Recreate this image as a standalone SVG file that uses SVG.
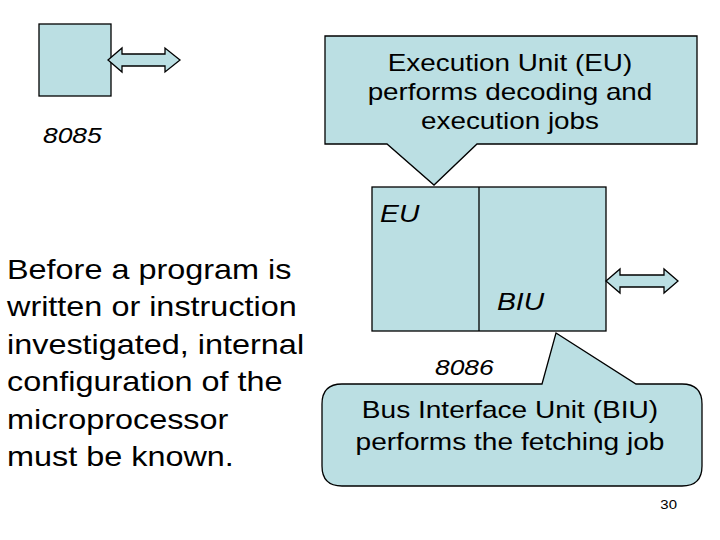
<svg xmlns="http://www.w3.org/2000/svg" width="720" height="540" viewBox="0 0 720 540">
<style>
.s{fill:#bbdfe3;stroke:#000;stroke-width:1.3}
.t{font-family:"Liberation Sans",Arial,sans-serif;fill:#000}
.i{font-style:italic}
</style>
<rect width="720" height="540" fill="#fff"/>
<g id="n8085"><rect class="s" x="39" y="24" width="72" height="72"/><text class="t i" x="43" y="143" font-size="22" transform="translate(43,0) scale(1.2,1) translate(-43,0)">8085</text></g>
<g id="n8086"><rect class="s" x="372" y="187" width="234" height="144"/><line x1="479" y1="187" x2="479" y2="331" stroke="#000" stroke-width="1.3"/>
<text class="t i" x="380" y="222" font-size="24" transform="translate(380,0) scale(1.18,1) translate(-380,0)">EU</text><text class="t i" x="497" y="310" font-size="24" transform="translate(497,0) scale(1.18,1) translate(-497,0)">BIU</text>
<text class="t i" x="435" y="375" font-size="22" transform="translate(435,0) scale(1.2,1) translate(-435,0)">8086</text></g>
<g id="connectors">
<path class="s" d="M108,60 L122,48 L122,54 L165,54 L165,48 L180,60 L165,72 L165,66 L122,66 L122,72 Z"/>
<path class="s" d="M606,281 L620,269 L620,275 L664,275 L664,269 L678,281 L664,293 L664,287 L620,287 L620,293 Z"/>
</g>
<g id="euCallout"><path class="s" d="M325,36 H697 V144 H477 L434,185 L387,144 H325 Z"/>
<text class="t" font-size="24" text-anchor="middle" transform="translate(510,0) scale(1.16,1) translate(-510,0)"><tspan x="510" y="71">Execution Unit (EU)</tspan><tspan x="510" y="100">performs decoding and</tspan><tspan x="510" y="129">execution jobs</tspan></text></g>
<g id="biuCallout"><path class="s" d="M342,384 H542 L556,333 L636,384 H682 Q702,384 702,404 V466 Q702,486 682,486 H342 Q322,486 322,466 V404 Q322,384 342,384 Z"/>
<text class="t" font-size="24" text-anchor="middle" transform="translate(510,0) scale(1.17,1) translate(-510,0)"><tspan x="510" y="418">Bus Interface Unit (BIU)</tspan><tspan x="510" y="450">performs the fetching job</tspan></text></g>
<g id="desc"><text class="t" font-size="27" transform="translate(7,0) scale(1.2,1) translate(-7,0)"><tspan x="7" y="279">Before a program is</tspan><tspan x="7" y="316">written or instruction</tspan><tspan x="7" y="354">investigated, internal</tspan><tspan x="7" y="391">configuration of the</tspan><tspan x="7" y="429">microprocessor</tspan><tspan x="7" y="466">must be known.</tspan></text></g>
<text class="t" x="677" y="509" font-size="13" text-anchor="end" transform="translate(677,0) scale(1.15,1) translate(-677,0)">30</text>
</svg>
